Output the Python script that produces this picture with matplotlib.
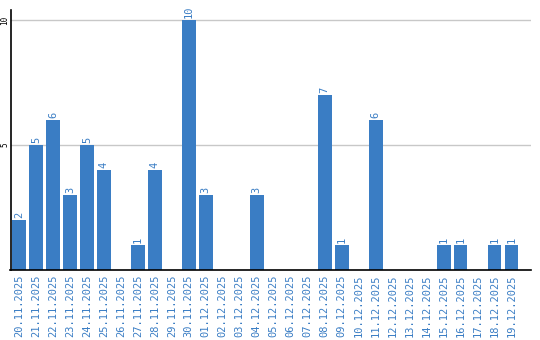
import matplotlib
matplotlib.use("Agg")
import matplotlib.pyplot as plt

# Daten
dates = ["20.11.2025", "21.11.2025", "22.11.2025", "23.11.2025", "24.11.2025",
         "25.11.2025", "26.11.2025", "27.11.2025", "28.11.2025", "29.11.2025",
         "30.11.2025", "01.12.2025", "02.12.2025", "03.12.2025", "04.12.2025",
         "05.12.2025", "06.12.2025", "07.12.2025", "08.12.2025", "09.12.2025",
         "10.12.2025", "11.12.2025", "12.12.2025", "13.12.2025", "14.12.2025",
         "15.12.2025", "16.12.2025", "17.12.2025", "18.12.2025", "19.12.2025"]
counts = [2, 5, 6, 3, 5, 4, 0, 1, 4, 0,
          10, 3, 0, 0, 3, 0, 0, 0, 7, 1,
          0, 6, 0, 0, 0, 1, 1, 0, 1, 1]
yticks = [5, 10]

blue = "#3a7dc4"
mono = "DejaVu Sans Mono"

fig = plt.figure(figsize=(5.4, 3.4), dpi=100)
ax = fig.add_axes([10.5 / 540, 1 - 270 / 340, 520.5 / 540, 260 / 340])

x = list(range(len(dates)))
ax.bar(x, counts, width=0.82, color=blue, zorder=2)

# Werte über den Balken
for xi, v in zip(x, counts):
    if v > 0:
        ax.text(xi, v + 0.08, str(v), rotation=90, ha="center", va="bottom",
                color=blue, fontsize=7.5, family=mono)

ax.set_xlim(-0.5, 30.15)
ax.set_ylim(0, 10.4)
ax.set_yticks(yticks)
ax.set_yticklabels([str(t) for t in yticks], rotation=90, va="center",
                   fontsize=5.5, family=mono)
ax.set_xticks(x)
ax.set_xticklabels(dates, rotation=90, fontsize=7.5, family=mono, color=blue)
ax.tick_params(axis="x", length=0, pad=3)
ax.tick_params(axis="y", length=0, pad=1)
ax.yaxis.grid(True, color="#c8c8c8", linewidth=1, zorder=0)

for side in ["top", "right"]:
    ax.spines[side].set_visible(False)
ax.spines["left"].set_linewidth(1.2)
ax.spines["bottom"].set_linewidth(1.2)

fig.savefig("out.png", dpi=100)
